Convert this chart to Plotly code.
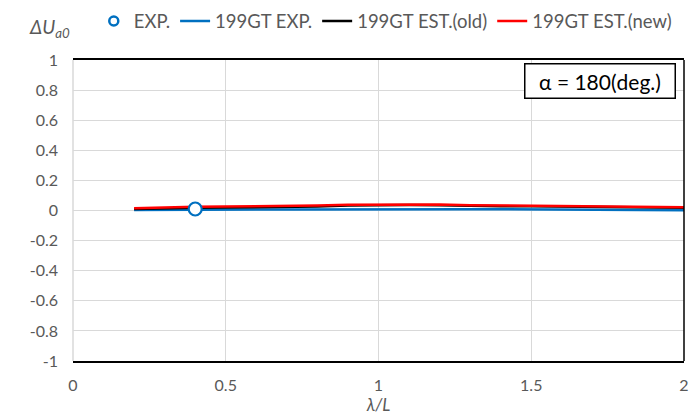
import plotly.graph_objects as go

# wavelength ratio lambda/L
wave_ratio = [0.2, 0.3, 0.4, 0.5, 0.6, 0.7, 0.8, 0.9, 1.0, 1.1,
              1.2, 1.3, 1.4, 1.5, 1.6, 1.7, 1.8, 1.9, 2.0]
# series values
gt199_exp = [0.003, 0.005, 0.006, 0.007, 0.007, 0.007, 0.008, 0.008, 0.008, 0.008,
             0.008, 0.008, 0.008, 0.007, 0.007, 0.006, 0.005, 0.004, 0.002]
gt199_est_old = [0.010, 0.015, 0.018, 0.020, 0.021, 0.023, 0.027, 0.033, 0.036, 0.036,
                 0.035, 0.030, 0.029, 0.028, 0.026, 0.024, 0.022, 0.020, 0.018]
gt199_est_new = [0.015, 0.022, 0.025, 0.027, 0.028, 0.030, 0.033, 0.038, 0.040, 0.040,
                 0.040, 0.035, 0.033, 0.032, 0.030, 0.028, 0.026, 0.024, 0.022]
# measured point
exp_x = [0.4]
exp_y = [0.01]

y_ticks = [-1, -0.8, -0.6, -0.4, -0.2, 0, 0.2, 0.4, 0.6, 0.8, 1]
y_tick_text = ["-1", "-0.8", "-0.6", "-0.4", "-0.2", "0", "0.2", "0.4", "0.6", "0.8", "1"]
x_ticks = [0, 0.5, 1, 1.5, 2]
x_tick_text = ["0", "0.5", "1", "1.5", "2"]

FONT = "Lato, Calibri, sans-serif"
GRAY = "#595959"
GRID = "#d9d9d9"
BLUE = "#0070C0"

fig = go.Figure()
# legend entry for the measured point (smaller symbol than on the plot)
fig.add_trace(go.Scatter(x=[None], y=[None], mode="markers", name="EXP.",
                         marker=dict(symbol="circle", size=9, color="white",
                                     line=dict(color=BLUE, width=2.5)),
                         legendrank=1))
fig.add_trace(go.Scatter(x=wave_ratio, y=gt199_exp, mode="lines", name="199GT EXP.",
                         line=dict(color=BLUE, width=2.5), legendrank=2))
fig.add_trace(go.Scatter(x=wave_ratio, y=gt199_est_old, mode="lines", name="199GT EST.(old)",
                         line=dict(color="#000000", width=2.5), legendrank=3))
fig.add_trace(go.Scatter(x=wave_ratio, y=gt199_est_new, mode="lines", name="199GT EST.(new)",
                         line=dict(color="#FF0000", width=2.5), legendrank=4))
fig.add_trace(go.Scatter(x=exp_x, y=exp_y, mode="markers", name="EXP.", showlegend=False,
                         marker=dict(symbol="circle", size=13, color="white",
                                     line=dict(color=BLUE, width=2.2))))

fig.update_layout(
    width=695, height=418,
    margin=dict(l=73, r=11, t=60, b=57, autoexpand=False),
    paper_bgcolor="white", plot_bgcolor="white",
    font=dict(family=FONT, size=16, color=GRAY),
    showlegend=True,
    legend=dict(orientation="h", x=0.034, xanchor="left", y=1.128, yanchor="middle",
                font=dict(family=FONT, size=18.5, color=GRAY),
                itemwidth=30, tracegroupgap=0, bgcolor="rgba(0,0,0,0)"),
    xaxis=dict(range=[0, 2], tickvals=x_ticks, ticktext=x_tick_text,
               showgrid=True, gridcolor=GRID, gridwidth=1, automargin=False,
               zeroline=False, showline=True, linecolor="black", linewidth=1.5,
               mirror=True, ticks="", ticklabelstandoff=9,
               title=dict(text="<i>λ/L</i>", font=dict(family=FONT, size=17, color=GRAY),
                          standoff=1)),
    yaxis=dict(range=[-1, 1], tickvals=y_ticks, ticktext=y_tick_text,
               showgrid=True, gridcolor=GRID, gridwidth=1, automargin=False,
               zeroline=False, showline=False, ticks="", ticklabelstandoff=14),
    shapes=[
        dict(type="line", xref="paper", yref="paper", x0=0, x1=0, y0=0, y1=1,
             line=dict(color=GRID, width=1.5)),
        dict(type="line", xref="paper", yref="paper", x0=1, x1=1, y0=0, y1=1,
             line=dict(color="black", width=1.5)),
    ],
    annotations=[
        dict(xref="paper", yref="paper", x=-0.0753, y=1.105, xanchor="left", yanchor="middle",
             text="<i>ΔU<sub>a0</sub></i>", showarrow=False,
             font=dict(family=FONT, size=19, color=GRAY)),
        dict(xref="paper", yref="paper", x=0.8633, y=0.930, xanchor="center", yanchor="middle",
             text="α = 180(deg.)", showarrow=False,
             font=dict(family=FONT, size=21, color="black"),
             bgcolor="white", bordercolor="black", borderwidth=1.5,
             width=145, height=29, borderpad=2),
    ],
)

fig.write_html("out.html")
